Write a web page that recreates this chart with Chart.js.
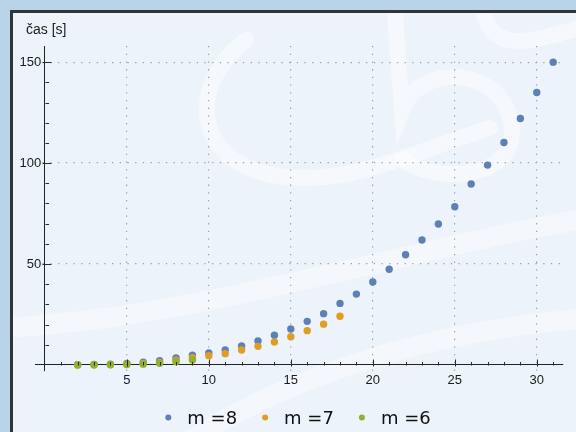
<!DOCTYPE html>
<html>
<head>
<meta charset="utf-8">
<script src="https://cdn.jsdelivr.net/npm/chart.js@4.4.1/dist/chart.umd.min.js"></script>
<style>
  html, body { margin: 0; padding: 0; background: #b9d3eb; }
</style>
</head>
<body>
<canvas id="casChart" width="576" height="432"></canvas>
<script>
// Data
var N8 = [2,3,4,5,6,7,8,9,10,11,12,13,14,15,16,17,18,19,20,21,22,23,24,25,26,27,28,29,30,31];
var M8 = [0.1,0.2,0.4,0.7,1.4,2.1,3.5,4.8,5.9,7.4,9.4,11.9,14.7,17.8,21.6,25.4,30.5,35.1,41.1,47.4,54.6,61.9,69.8,78.4,89.6,99,110.2,122.1,135,150];
var N7 = [2,3,4,5,6,7,8,9,10,11,12,13,14,15,16,17,18];
var M7 = [0.05,0.1,0.2,0.4,0.7,1.2,2.4,3.6,4.6,5.6,7.4,9.2,11.4,14,17,20.2,24.1];
var N6 = [2,3,4,5,6,7,8,9];
var M6 = [0.02,0.05,0.1,0.2,0.4,0.8,1.6,2.5];
var SERIES_LABELS = ['m =8', 'm =7', 'm =6'];
var COLORS = ['#5e81b5', '#e19c24', '#8fb131'];
var X_TICKS = [5, 10, 15, 20, 25, 30];
var Y_TICKS = [50, 100, 150];
var Y_TITLE = 'čas [s]';

function pts(xs, ys) {
  return xs.map(function (x, i) { return {x: x, y: ys[i]}; });
}

var TICK_FONT = {family: '"Liberation Sans", Arial, sans-serif', size: 13};

// background panel with light swirls
var panelPlugin = {
  id: 'panel',
  beforeDraw: function (chart) {
    var ctx = chart.ctx;
    ctx.save();
    ctx.fillStyle = '#b9d3eb';
    ctx.fillRect(0, 0, 576, 432);
    ctx.fillStyle = '#edf3fa';
    ctx.fillRect(12, 12, 570, 430);
    ctx.beginPath();
    ctx.rect(13, 13, 570, 430);
    ctx.clip();
    ctx.strokeStyle = 'rgba(255,255,255,0.45)';
    ctx.lineCap = 'round';
    ctx.lineWidth = 16;
    ctx.beginPath();
    ctx.moveTo(246, 40);
    ctx.bezierCurveTo(185, 85, 190, 175, 300, 178);
    ctx.bezierCurveTo(360, 180, 420, 150, 490, 128);
    ctx.stroke();
    ctx.beginPath();
    ctx.moveTo(394, 0);
    ctx.lineTo(402, 110);
    ctx.bezierCurveTo(420, 62, 505, 65, 512, 128);
    ctx.bezierCurveTo(516, 178, 440, 185, 402, 160);
    ctx.stroke();
    ctx.beginPath();
    ctx.moveTo(480, 0);
    ctx.bezierCurveTo(490, 55, 520, 45, 590, 25);
    ctx.stroke();
    ctx.lineWidth = 20;
    ctx.strokeStyle = 'rgba(255,255,255,0.4)';
    ctx.beginPath();
    ctx.moveTo(0, 328);
    ctx.bezierCurveTo(200, 318, 400, 250, 590, 218);
    ctx.stroke();
    ctx.beginPath();
    ctx.moveTo(190, 440);
    ctx.bezierCurveTo(300, 370, 440, 330, 590, 318);
    ctx.stroke();
    ctx.restore();
    ctx.save();
    ctx.strokeStyle = '#2e353b';
    ctx.lineWidth = 3;
    ctx.strokeRect(11.5, 11.5, 600, 600);
    ctx.restore();
  }
};

// inward tick marks, axis title and legend
var decorPlugin = {
  id: 'decor',
  afterDatasetsDraw: function (chart) {
    var ctx = chart.ctx, xs = chart.scales.x, ys = chart.scales.y;
    var x0 = Math.round(xs.getPixelForValue(0)) + 0.5;
    var y0 = Math.round(ys.getPixelForValue(0)) + 0.5;
    ctx.save();
    ctx.strokeStyle = '#2a2a2a';
    ctx.lineWidth = 1;
    ctx.beginPath();
    for (var i = 1; i <= 31; i++) {
      var px = Math.round(xs.getPixelForValue(i)) + 0.5;
      var major = X_TICKS.indexOf(i) >= 0;
      ctx.moveTo(px, y0 + (major ? 1 : 0));
      ctx.lineTo(px, y0 - (major ? 6 : 3.5));
    }
    for (var v = 10; v <= 150; v += 10) {
      var py = Math.round(ys.getPixelForValue(v)) + 0.5;
      var maj = Y_TICKS.indexOf(v) >= 0;
      ctx.moveTo(x0 - (maj ? 3 : 0), py);
      ctx.lineTo(x0 + (maj ? 6 : 3.5), py);
    }
    ctx.stroke();

    // axis title
    ctx.fillStyle = '#1a1a1a';
    ctx.font = '14px "Liberation Sans", Arial, sans-serif';
    ctx.textBaseline = 'alphabetic';
    ctx.textAlign = 'left';
    ctx.fillText(Y_TITLE, 26, 34);

    // legend
    ctx.font = '18px "DejaVu Sans", sans-serif';
    var dotGap = 20, itemGap = 27, widths = [], total = 0;
    chart.data.datasets.forEach(function (ds, k) {
      var w = ctx.measureText(ds.label).width;
      widths.push(w);
      total += dotGap + w + (k < chart.data.datasets.length - 1 ? itemGap : 0);
    });
    var cx = (chart.chartArea.left + chart.chartArea.right) / 2 - total / 2;
    chart.data.datasets.forEach(function (ds, k) {
      ctx.fillStyle = ds.backgroundColor;
      ctx.beginPath();
      ctx.arc(cx + 1, 417.5, 3, 0, Math.PI * 2);
      ctx.fill();
      ctx.fillStyle = '#111';
      ctx.fillText(ds.label, cx + dotGap, 423.5);
      cx += dotGap + widths[k] + itemGap;
    });
    ctx.restore();
  }
};

var data = {
  datasets: [
    {label: SERIES_LABELS[0], data: pts(N8, M8), backgroundColor: COLORS[0], order: 3},
    {label: SERIES_LABELS[1], data: pts(N7, M7), backgroundColor: COLORS[1], order: 2},
    {label: SERIES_LABELS[2], data: pts(N6, M6), backgroundColor: COLORS[2], order: 1}
  ]
};

var config = {
  type: 'scatter',
  data: data,
  options: {
    responsive: false,
    animation: false,
    devicePixelRatio: 1,
    layout: {padding: {left: 35, right: 13, top: 46, bottom: 61}},
    elements: {point: {radius: 3.7, borderWidth: 0, hoverRadius: 3.7}},
    plugins: {legend: {display: false}, tooltip: {enabled: false}},
    scales: {
      x: {
        type: 'linear',
        position: {y: 0},
        min: -0.6,
        max: 31.6,
        afterFit: function (s) { s.height = 0; },
        ticks: {
          stepSize: 1, autoSkip: false, includeBounds: false, maxRotation: 0,
          padding: 8, font: TICK_FONT, color: '#1a1a1a',
          callback: function (v) { return X_TICKS.indexOf(v) >= 0 ? String(v) : ''; }
        },
        grid: {
          drawTicks: false, lineWidth: 1.2,
          color: function (c) { return c.tick && X_TICKS.indexOf(c.tick.value) >= 0 ? '#a0a0a0' : 'rgba(0,0,0,0)'; }
        },
        border: {display: true, color: '#222', width: 1, dash: [1.3, 6.4]}
      },
      y: {
        type: 'linear',
        position: {x: 0},
        min: -3,
        max: 158,
        afterFit: function (s) { s.width = 0; },
        ticks: {
          stepSize: 10, autoSkip: false, includeBounds: false,
          padding: 0, font: TICK_FONT, color: '#1a1a1a',
          // trailing space keeps the label clear of the axis line
          callback: function (v) { return Y_TICKS.indexOf(v) >= 0 ? v + ' ' : ''; }
        },
        grid: {
          drawTicks: false, lineWidth: 1.2,
          color: function (c) { return c.tick && Y_TICKS.indexOf(c.tick.value) >= 0 ? '#a0a0a0' : 'rgba(0,0,0,0)'; }
        },
        border: {display: true, color: '#222', width: 1, dash: [1.3, 6.4]}
      }
    }
  },
  plugins: [panelPlugin, decorPlugin]
};

var ctx = document.getElementById('casChart').getContext('2d');
var casChart = new Chart(ctx, config);
</script>
</body>
</html>
